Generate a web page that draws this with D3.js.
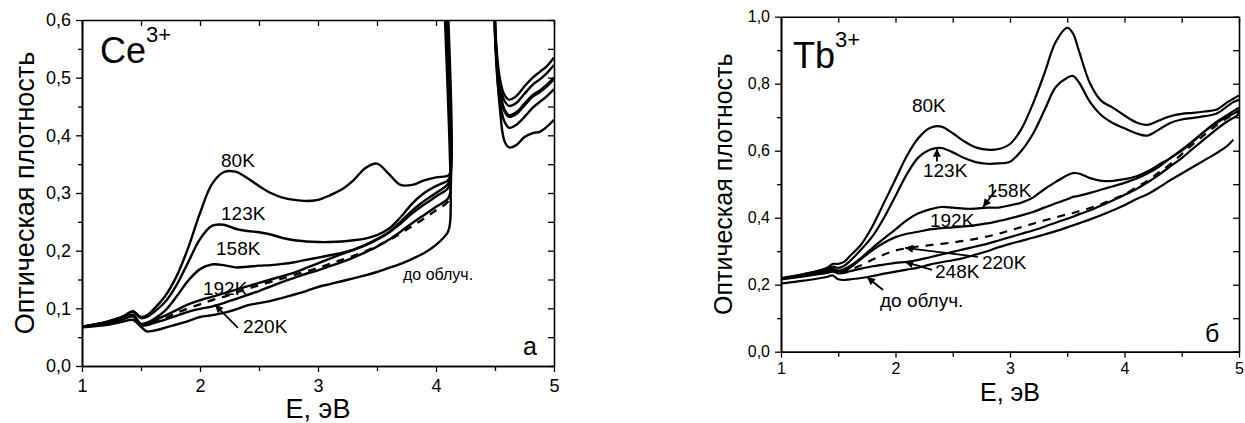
<!DOCTYPE html>
<html><head><meta charset="utf-8">
<script src="https://cdn.jsdelivr.net/npm/d3@7"></script>
<style>
body{margin:0;background:#fff}
svg{display:block}
text{font-family:"Liberation Sans",Arial,Helvetica,sans-serif;fill:#000}
</style>
</head><body>
<svg id="c" width="1245" height="423"></svg>
<script>
// ---------- Panel a: Ce3+ ----------
const ceE = [1.0,1.2,1.35,1.43,1.5,1.55,1.6,1.7,1.8,1.9,2.0,2.1,2.2,2.3,2.4,2.5,2.6,2.7,2.8,2.9,3.0,3.1,3.2,3.3,3.4,3.5,3.6,3.7,3.8,3.9,4.0,4.1,4.12,4.15,4.47,4.5,4.54,4.58,4.62,4.68,4.75,4.82,4.88,4.94,5.0];
const ce80 = [0.068,0.076,0.086,0.095,0.085,0.088,0.097,0.12,0.155,0.205,0.265,0.315,0.336,0.337,0.326,0.312,0.3,0.292,0.288,0.286,0.288,0.296,0.306,0.322,0.343,0.351,0.333,0.314,0.314,0.322,0.327,0.33,0.335,2,2,0.6,0.5,0.47,0.462,0.468,0.485,0.5,0.51,0.52,0.535];
const ce123 = [0.068,0.076,0.086,0.094,0.083,0.085,0.092,0.11,0.14,0.18,0.22,0.243,0.245,0.238,0.234,0.232,0.228,0.222,0.218,0.216,0.215,0.215,0.216,0.218,0.221,0.227,0.238,0.258,0.282,0.3,0.312,0.322,0.33,2,2,0.59,0.49,0.46,0.451,0.456,0.472,0.488,0.497,0.508,0.522];
const ce158 = [0.068,0.075,0.083,0.089,0.073,0.075,0.08,0.095,0.12,0.148,0.168,0.176,0.175,0.171,0.172,0.174,0.175,0.177,0.18,0.184,0.188,0.192,0.196,0.202,0.21,0.22,0.232,0.25,0.27,0.286,0.3,0.315,0.325,2,2,0.58,0.48,0.445,0.435,0.44,0.455,0.47,0.478,0.488,0.5];
const ce192 = [0.068,0.074,0.082,0.087,0.072,0.074,0.078,0.087,0.097,0.107,0.114,0.12,0.126,0.132,0.138,0.144,0.15,0.156,0.162,0.17,0.178,0.186,0.194,0.201,0.209,0.219,0.231,0.247,0.265,0.28,0.294,0.308,0.318,2,2,0.58,0.478,0.442,0.432,0.437,0.452,0.467,0.475,0.485,0.497];
const ceDash = [0.068,0.074,0.082,0.087,0.072,0.073,0.076,0.083,0.092,0.1,0.107,0.114,0.12,0.127,0.134,0.14,0.146,0.152,0.158,0.164,0.17,0.177,0.184,0.191,0.199,0.208,0.218,0.23,0.243,0.256,0.27,0.285,0.295,null,null,null,null,null,null,null,null,null,null,null,null];
const ce220 = [0.068,0.074,0.081,0.086,0.07,0.071,0.074,0.08,0.087,0.094,0.099,0.103,0.109,0.116,0.123,0.13,0.138,0.146,0.153,0.16,0.166,0.173,0.18,0.188,0.197,0.207,0.219,0.233,0.248,0.262,0.276,0.29,0.3,2,2,0.57,0.46,0.424,0.413,0.418,0.432,0.448,0.458,0.468,0.48];
const ceBefore = [0.067,0.071,0.077,0.08,0.068,0.06,0.061,0.066,0.072,0.078,0.085,0.088,0.092,0.098,0.105,0.109,0.113,0.118,0.124,0.13,0.137,0.142,0.147,0.152,0.157,0.163,0.17,0.177,0.186,0.196,0.21,0.232,0.25,2,2,0.6,0.45,0.39,0.379,0.383,0.397,0.404,0.406,0.415,0.427];

// ---------- Panel б: Tb3+ ----------
const tbE = [1.0,1.2,1.4,1.45,1.5,1.55,1.6,1.7,1.8,1.9,2.0,2.1,2.2,2.3,2.4,2.5,2.6,2.7,2.8,2.9,3.0,3.1,3.2,3.3,3.4,3.5,3.55,3.6,3.7,3.8,3.9,4.0,4.1,4.2,4.3,4.4,4.5,4.6,4.7,4.8,4.9,4.95,5.0];
const tb80 = [0.22,0.232,0.25,0.262,0.262,0.268,0.285,0.32,0.375,0.445,0.515,0.585,0.638,0.668,0.672,0.652,0.628,0.61,0.603,0.605,0.62,0.665,0.74,0.83,0.925,0.967,0.95,0.9,0.8,0.748,0.728,0.705,0.685,0.677,0.69,0.703,0.71,0.713,0.717,0.722,0.745,0.755,0.765];
const tb123 = [0.218,0.23,0.245,0.254,0.25,0.256,0.27,0.305,0.345,0.4,0.465,0.53,0.58,0.603,0.608,0.595,0.578,0.566,0.561,0.562,0.567,0.6,0.65,0.72,0.79,0.818,0.823,0.805,0.745,0.705,0.682,0.667,0.652,0.645,0.663,0.683,0.693,0.698,0.703,0.71,0.733,0.745,0.752];
const tb158 = [0.218,0.228,0.24,0.247,0.242,0.246,0.255,0.28,0.31,0.338,0.365,0.393,0.413,0.425,0.432,0.43,0.427,0.427,0.43,0.43,0.437,0.445,0.46,0.485,0.507,0.527,0.533,0.532,0.518,0.51,0.51,0.515,0.523,0.538,0.558,0.578,0.6,0.628,0.658,0.685,0.707,0.718,0.728];
const tb192 = [0.218,0.227,0.238,0.244,0.24,0.242,0.25,0.277,0.303,0.325,0.342,0.352,0.358,0.365,0.369,0.371,0.374,0.378,0.383,0.39,0.398,0.407,0.417,0.43,0.443,0.455,0.462,0.465,0.474,0.484,0.494,0.504,0.516,0.532,0.552,0.578,0.603,0.63,0.658,0.682,0.702,0.71,0.72];
const tb220 = [0.218,0.227,0.237,0.242,0.238,0.24,0.245,0.258,0.275,0.29,0.302,0.309,0.314,0.318,0.322,0.326,0.331,0.337,0.344,0.352,0.362,0.372,0.382,0.392,0.401,0.41,0.414,0.419,0.429,0.441,0.455,0.47,0.49,0.51,0.535,0.56,0.59,0.62,0.648,0.675,0.698,0.707,0.715];
const tb248 = [0.216,0.225,0.235,0.239,0.234,0.235,0.24,0.248,0.255,0.26,0.265,0.268,0.274,0.282,0.29,0.298,0.306,0.314,0.322,0.332,0.342,0.352,0.362,0.373,0.385,0.397,0.403,0.41,0.422,0.437,0.452,0.468,0.485,0.505,0.528,0.553,0.578,0.607,0.635,0.663,0.688,0.698,0.708];
const tbBefore = [0.203,0.212,0.223,0.228,0.216,0.214,0.216,0.22,0.226,0.233,0.239,0.245,0.251,0.26,0.267,0.273,0.28,0.29,0.3,0.312,0.322,0.331,0.34,0.35,0.36,0.371,0.377,0.383,0.395,0.408,0.422,0.437,0.455,0.47,0.49,0.512,0.532,0.552,0.572,0.592,0.615,0.633,null];

// tick values
const xMajor = [1,2,3,4,5];
const xMinor = [1.5,2.5,3.5,4.5];
const ceYMajor = [0,0.1,0.2,0.3,0.4,0.5,0.6];
const ceYMinor = [0.05,0.15,0.25,0.35,0.45,0.55];
const tbYMajor = [0,0.2,0.4,0.6,0.8,1.0];
const tbYMinor = [0.1,0.3,0.5,0.7,0.9];

// text labels (anchor in data units)
const ceLabels = [
  {t:"80K", e:2.178, v:0.345},
  {t:"123K", e:2.178, v:0.253},
  {t:"158K", e:2.136, v:0.1925},
  {t:"192K", e:2.025, v:0.123},
  {t:"220K", e:2.364, v:0.057}
];
const ceArrows = [{e0:2.322, v0:0.066, e1:2.127, v1:0.106}];
const tbLabels = [
  {t:"80K", e:2.144, v:0.7155},
  {t:"123K", e:2.24, v:0.5215},
  {t:"158K", e:2.799, v:0.462},
  {t:"192K", e:2.301, v:0.372},
  {t:"220K", e:2.755, v:0.247},
  {t:"248K", e:2.345, v:0.22}
];
const tbArrows = [
  {e0:2.362, v0:0.568, e1:2.362, v1:0.606},
  {e0:2.878, v0:0.483, e1:2.764, v1:0.432},
  {e0:2.72, v0:0.283, e1:2.083, v1:0.31},
  {e0:2.319, v0:0.244, e1:2.083, v1:0.268},
  {e0:1.891, v0:0.184, e1:1.751, v1:0.223}
];

const svg = d3.select("#c");
const defs = svg.append("defs");
defs.append("marker").attr("id","ah").attr("viewBox","0 0 10 10")
  .attr("refX",10).attr("refY",5).attr("markerWidth",10).attr("markerHeight",8)
  .attr("markerUnits","userSpaceOnUse").attr("orient","auto")
  .append("path").attr("d","M0,0L10,5L0,10z").attr("fill","#000");

const fmtY = d => d3.format(".1f")(d).replace(".", ",");

function panel(cfg){
  const g = svg.append("g");
  const x = d3.scaleLinear().domain([1,5]).range([cfg.l, cfg.r]);
  const y = d3.scaleLinear().domain([0,cfg.ymax]).range([cfg.b, cfg.t]);
  defs.append("clipPath").attr("id", cfg.id).append("rect")
    .attr("x", cfg.l).attr("y", cfg.t).attr("width", cfg.r-cfg.l).attr("height", cfg.b-cfg.t);

  const line = d3.line().defined(d => d[1] != null)
    .x(d => x(d[0])).y(d => y(d[1])).curve(d3.curveCatmullRom.alpha(0.5));
  const lg = g.append("g").attr("clip-path", `url(#${cfg.id})`);
  cfg.series.forEach(s => {
    lg.append("path").datum(cfg.E.map((e,i) => [e, s.v[i]]))
      .attr("d", line).attr("fill","none").attr("stroke","#000")
      .attr("stroke-width", cfg.lw).attr("stroke-linejoin","round")
      .attr("stroke-dasharray", s.dash ? "8,7" : null);
  });

  const styleAxis = a => {
    a.selectAll("path.domain").attr("stroke","#000").attr("stroke-width",1.6);
    a.selectAll(".tick line").attr("stroke","#000").attr("stroke-width",1.3);
    a.selectAll(".tick text").style("font-size", cfg.tf+"px").attr("fill","#000");
  };
  // bottom
  g.append("g").attr("transform",`translate(0,${cfg.b})`)
    .call(d3.axisBottom(x).tickValues(xMinor).tickSize(5).tickSizeOuter(0).tickFormat(""))
    .call(styleAxis);
  g.append("g").attr("transform",`translate(0,${cfg.b})`)
    .call(d3.axisBottom(x).tickValues(xMajor).tickSize(6).tickPadding(cfg.xpad).tickSizeOuter(0).tickFormat(d3.format("d")))
    .call(styleAxis);
  // top (inward)
  g.append("g").attr("transform",`translate(0,${cfg.t})`)
    .call(d3.axisTop(x).tickValues(xMajor.concat(xMinor)).tickSize(-6).tickSizeOuter(0).tickFormat(""))
    .call(styleAxis);
  // left
  g.append("g").attr("transform",`translate(${cfg.l},0)`)
    .call(d3.axisLeft(y).tickValues(cfg.yMinor).tickSize(4).tickSizeOuter(0).tickFormat(""))
    .call(styleAxis);
  g.append("g").attr("transform",`translate(${cfg.l},0)`)
    .call(d3.axisLeft(y).tickValues(cfg.yMajor).tickSize(6).tickPadding(5).tickSizeOuter(0).tickFormat(fmtY))
    .call(styleAxis);
  // right (inward)
  g.append("g").attr("transform",`translate(${cfg.r},0)`)
    .call(d3.axisRight(y).tickValues(cfg.yMajor.concat(cfg.yMinor)).tickSize(-6).tickSizeOuter(0).tickFormat(""))
    .call(styleAxis);

  // axis titles
  g.append("text").attr("x",(cfg.l+cfg.r)/2).attr("y",cfg.xtY)
    .attr("text-anchor","middle").style("font-size",cfg.atf+"px").text("E, эВ");
  g.append("text").attr("transform",`translate(${cfg.ytX},${(cfg.t+cfg.b)/2}) rotate(-90)`)
    .attr("text-anchor","middle").style("font-size",cfg.atf+"px").text("Оптическая плотность");

  // ion title
  const ion = g.append("text").attr("x",x(cfg.ion.e)).attr("y",y(cfg.ion.v)).style("font-size","36px");
  ion.append("tspan").text(cfg.ion.t);
  ion.append("tspan").attr("dy",-21).style("font-size","22px").text("3+");

  // labels
  cfg.labels.forEach(l => {
    g.append("text").attr("x",x(l.e)).attr("y",y(l.v)).style("font-size","19px").text(l.t);
  });
  cfg.arrows.forEach(a => {
    g.append("line").attr("x1",x(a.e0)).attr("y1",y(a.v0)).attr("x2",x(a.e1)).attr("y2",y(a.v1))
      .attr("stroke","#000").attr("stroke-width",1.8).attr("marker-end","url(#ah)");
  });
  g.append("text").attr("x",x(cfg.before.e)).attr("y",y(cfg.before.v))
    .style("font-size",cfg.before.fs+"px").text("до облуч.");
  g.append("text").attr("x",x(cfg.letter.e)).attr("y",y(cfg.letter.v))
    .style("font-size","25px").text(cfg.letter.t);
}

panel({
  id:"clipA", l:82, r:554, t:20, b:366, ymax:0.6, lw:2.4,
  yMajor:ceYMajor, yMinor:ceYMinor, tf:18, xpad:7, atf:27,
  xtY:418, ytX:34, E:ceE,
  series:[{v:ce80},{v:ce123},{v:ce158},{v:ce192},{v:ceDash,dash:true},{v:ce220},{v:ceBefore}],
  ion:{t:"Ce", e:1.153, v:0.525},
  labels:ceLabels, arrows:ceArrows,
  before:{e:3.72, v:0.149, fs:16},
  letter:{t:"а", e:4.737, v:0.019}
});
panel({
  id:"clipB", l:781, r:1239, t:16.7, b:351.7, ymax:1.0, lw:2.2,
  yMajor:tbYMajor, yMinor:tbYMinor, tf:16, xpad:5, atf:25,
  xtY:401, ytX:732, E:tbE,
  series:[{v:tb80},{v:tb123},{v:tb158},{v:tb192},{v:tb220,dash:true},{v:tb248},{v:tbBefore}],
  ion:{t:"Tb", e:1.105, v:0.847},
  labels:tbLabels, arrows:tbArrows,
  before:{e:1.865, v:0.133, fs:19},
  letter:{t:"б", e:4.703, v:0.029}
});
</script>
</body></html>
